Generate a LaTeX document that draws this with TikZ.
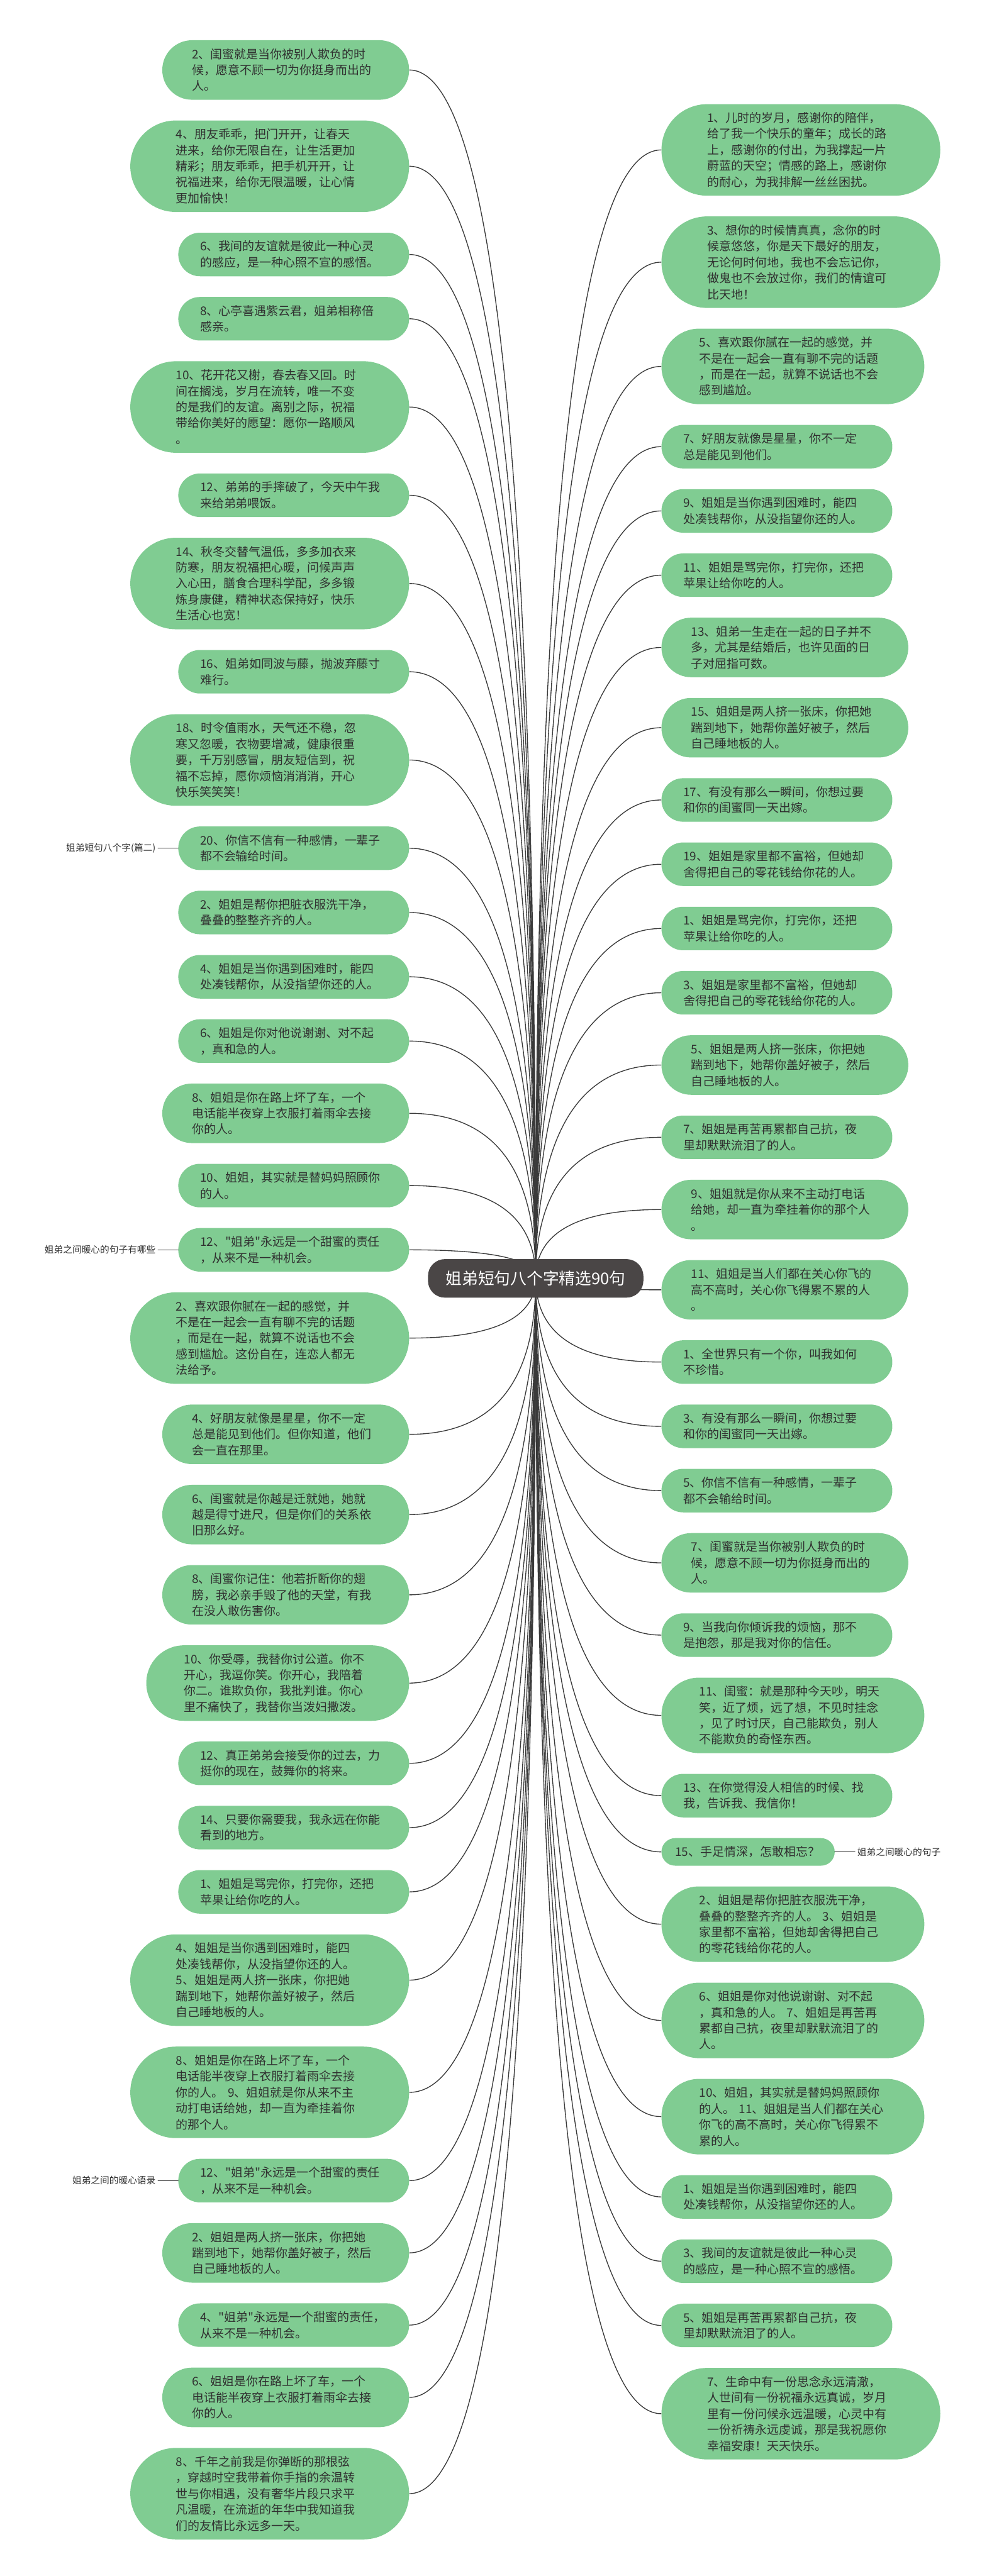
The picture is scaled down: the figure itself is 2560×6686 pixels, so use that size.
\documentclass[tikz,border=0pt]{standalone}
\usepackage{fontspec}
\setmainfont{Noto Sans CJK SC}[Ligatures=TeXOff]
\usepackage{xcolor}
\usepackage{tikz}
\usetikzlibrary{positioning,calc,backgrounds}
\definecolor{leafgreen}{HTML}{80CC92}
\definecolor{rootgray}{HTML}{4A4646}
\definecolor{ink}{HTML}{303030}
\definecolor{linkgray}{HTML}{3A3A3A}
\tikzset{
    every picture/.style={line cap=round,line join=round},
    leafnode/.style={rectangle,fill=leafgreen,text=ink,
      text width=243pt,inner ysep=2pt,align=left,
      font=\fontsize{15.5pt}{20.75pt}\selectfont},
    nlines/.style={minimum height=20.75pt*#1+15pt,
      inner xsep=10.375pt*#1+7.5pt,rounded corners=10.375pt*#1+7.4pt},
    rootnode/.style={rectangle,rounded corners=22pt,fill=rootgray,text=white,
      minimum width=279.5pt,minimum height=50pt,inner sep=0pt,
      font=\fontsize{21pt}{25pt}\selectfont},
    tagnode/.style={text=ink,inner sep=3pt,font=\fontsize{12pt}{14pt}\selectfont},
    linkline/.style={draw=linkgray,line width=1.1pt},
    tagline/.style={draw=ink,line width=1.1pt},
    mmcurve/.style={to path={.. controls ($(\tikztostart)!0.6667!(\tikztostart |- \tikztotarget)$)
      and ($(\tikztotarget)!0.6667!(\tikztostart |- \tikztotarget)$) .. (\tikztotarget)}},
    leftnext/.style={below=26.5pt of #1.south east,anchor=north east},
    rightnext/.style={below=26.5pt of #1.south west,anchor=north west}
}

\begin{document}
\begin{tikzpicture}[x=0.5pt,y=-0.5pt]
  \useasboundingbox (0,0) rectangle (2560,6686);
  \node[rootnode] (root) at (1390,3318) {姐弟短句八个字精选90句};

  \node[leafnode,nlines=3,anchor=north east] (l1) at (1062,104)
    {2、闺蜜就是当你被别人欺负的时\\候，愿意不顾一切为你挺身而出的\\人。};
  \node[leafnode,nlines=5,leftnext=l1] (l2)
    {4、朋友乖乖，把门开开，让春天\\进来，给你无限自在，让生活更加\\精彩；朋友乖乖，把手机开开，让\\祝福进来，给你无限温暖，让心情\\更加愉快！};
  \node[leafnode,nlines=2,leftnext=l2] (l3)
    {6、我间的友谊就是彼此一种心灵\\的感应，是一种心照不宣的感悟。};
  \node[leafnode,nlines=2,leftnext=l3] (l4)
    {8、心亭喜遇紫云君，姐弟相称倍\\感亲。};
  \node[leafnode,nlines=5,leftnext=l4] (l5)
    {10、花开花又榭，春去春又回。时\\间在搁浅，岁月在流转，唯一不变\\的是我们的友谊。离别之际，祝福\\带给你美好的愿望：愿你一路顺风\\。};
  \node[leafnode,nlines=2,leftnext=l5] (l6)
    {12、弟弟的手摔破了，今天中午我\\来给弟弟喂饭。};
  \node[leafnode,nlines=5,leftnext=l6] (l7)
    {14、秋冬交替气温低，多多加衣来\\防寒，朋友祝福把心暖，问候声声\\入心田，膳食合理科学配，多多锻\\炼身康健，精神状态保持好，快乐\\生活心也宽！};
  \node[leafnode,nlines=2,leftnext=l7] (l8)
    {16、姐弟如同波与藤，抛波弃藤寸\\难行。};
  \node[leafnode,nlines=5,leftnext=l8] (l9)
    {18、时令值雨水，天气还不稳，忽\\寒又忽暖，衣物要增减，健康很重\\要，千万别感冒，朋友短信到，祝\\福不忘掉，愿你烦恼消消消，开心\\快乐笑笑笑！};
  \node[leafnode,nlines=2,leftnext=l9] (l10)
    {20、你信不信有一种感情，一辈子\\都不会输给时间。};
  \node[leafnode,nlines=2,leftnext=l10] (l11)
    {2、姐姐是帮你把脏衣服洗干净，\\叠叠的整整齐齐的人。};
  \node[leafnode,nlines=2,leftnext=l11] (l12)
    {4、姐姐是当你遇到困难时，能四\\处凑钱帮你，从没指望你还的人。};
  \node[leafnode,nlines=2,leftnext=l12] (l13)
    {6、姐姐是你对他说谢谢、对不起\\，真和急的人。};
  \node[leafnode,nlines=3,leftnext=l13] (l14)
    {8、姐姐是你在路上坏了车，一个\\电话能半夜穿上衣服打着雨伞去接\\你的人。};
  \node[leafnode,nlines=2,leftnext=l14] (l15)
    {10、姐姐，其实就是替妈妈照顾你\\的人。};
  \node[leafnode,nlines=2,leftnext=l15] (l16)
    {12、"姐弟"永远是一个甜蜜的责任\\，从来不是一种机会。};
  \node[leafnode,nlines=5,leftnext=l16] (l17)
    {2、喜欢跟你腻在一起的感觉，并\\不是在一起会一直有聊不完的话题\\，而是在一起，就算不说话也不会\\感到尴尬。这份自在，连恋人都无\\法给予。};
  \node[leafnode,nlines=3,leftnext=l17] (l18)
    {4、好朋友就像是星星，你不一定\\总是能见到他们。但你知道，他们\\会一直在那里。};
  \node[leafnode,nlines=3,leftnext=l18] (l19)
    {6、闺蜜就是你越是迁就她，她就\\越是得寸进尺，但是你们的关系依\\旧那么好。};
  \node[leafnode,nlines=3,leftnext=l19] (l20)
    {8、闺蜜你记住：他若折断你的翅\\膀，我必亲手毁了他的天堂，有我\\在没人敢伤害你。};
  \node[leafnode,nlines=4,leftnext=l20] (l21)
    {10、你受辱，我替你讨公道。你不\\开心，我逗你笑。你开心，我陪着\\你二。谁欺负你，我批判谁。你心\\里不痛快了，我替你当泼妇撒泼。};
  \node[leafnode,nlines=2,leftnext=l21] (l22)
    {12、真正弟弟会接受你的过去，力\\挺你的现在，鼓舞你的将来。};
  \node[leafnode,nlines=2,leftnext=l22] (l23)
    {14、只要你需要我，我永远在你能\\看到的地方。};
  \node[leafnode,nlines=2,leftnext=l23] (l24)
    {1、姐姐是骂完你，打完你，还把\\苹果让给你吃的人。};
  \node[leafnode,nlines=5,leftnext=l24] (l25)
    {4、姐姐是当你遇到困难时，能四\\处凑钱帮你，从没指望你还的人。\\5、姐姐是两人挤一张床，你把她\\踹到地下，她帮你盖好被子，然后\\自己睡地板的人。};
  \node[leafnode,nlines=5,leftnext=l25] (l26)
    {8、姐姐是你在路上坏了车，一个\\电话能半夜穿上衣服打着雨伞去接\\你的人。~9、姐姐就是你从来不主\\动打电话给她，却一直为牵挂着你\\的那个人。};
  \node[leafnode,nlines=2,leftnext=l26] (l27)
    {12、"姐弟"永远是一个甜蜜的责任\\，从来不是一种机会。};
  \node[leafnode,nlines=3,leftnext=l27] (l28)
    {2、姐姐是两人挤一张床，你把她\\踹到地下，她帮你盖好被子，然后\\自己睡地板的人。};
  \node[leafnode,nlines=2,leftnext=l28] (l29)
    {4、"姐弟"永远是一个甜蜜的责任，\\从来不是一种机会。};
  \node[leafnode,nlines=3,leftnext=l29] (l30)
    {6、姐姐是你在路上坏了车，一个\\电话能半夜穿上衣服打着雨伞去接\\你的人。};
  \node[leafnode,nlines=5,leftnext=l30] (l31)
    {8、千年之前我是你弹断的那根弦\\，穿越时空我带着你手指的余温转\\世与你相遇，没有奢华片段只求平\\凡温暖，在流逝的年华中我知道我\\们的友情比永远多一天。};

  \node[leafnode,nlines=5,anchor=north west] (r1) at (1716,270)
    {1、儿时的岁月，感谢你的陪伴，\\给了我一个快乐的童年；成长的路\\上，感谢你的付出，为我撑起一片\\蔚蓝的天空；情感的路上，感谢你\\的耐心，为我排解一丝丝困扰。};
  \node[leafnode,nlines=5,rightnext=r1] (r2)
    {3、想你的时候情真真，念你的时\\候意悠悠，你是天下最好的朋友，\\无论何时何地，我也不会忘记你，\\做鬼也不会放过你，我们的情谊可\\比天地！};
  \node[leafnode,nlines=4,rightnext=r2] (r3)
    {5、喜欢跟你腻在一起的感觉，并\\不是在一起会一直有聊不完的话题\\，而是在一起，就算不说话也不会\\感到尴尬。};
  \node[leafnode,nlines=2,rightnext=r3] (r4)
    {7、好朋友就像是星星，你不一定\\总是能见到他们。};
  \node[leafnode,nlines=2,rightnext=r4] (r5)
    {9、姐姐是当你遇到困难时，能四\\处凑钱帮你，从没指望你还的人。};
  \node[leafnode,nlines=2,rightnext=r5] (r6)
    {11、姐姐是骂完你，打完你，还把\\苹果让给你吃的人。};
  \node[leafnode,nlines=3,rightnext=r6] (r7)
    {13、姐弟一生走在一起的日子并不\\多，尤其是结婚后，也许见面的日\\子对屈指可数。};
  \node[leafnode,nlines=3,rightnext=r7] (r8)
    {15、姐姐是两人挤一张床，你把她\\踹到地下，她帮你盖好被子，然后\\自己睡地板的人。};
  \node[leafnode,nlines=2,rightnext=r8] (r9)
    {17、有没有那么一瞬间，你想过要\\和你的闺蜜同一天出嫁。};
  \node[leafnode,nlines=2,rightnext=r9] (r10)
    {19、姐姐是家里都不富裕，但她却\\舍得把自己的零花钱给你花的人。};
  \node[leafnode,nlines=2,rightnext=r10] (r11)
    {1、姐姐是骂完你，打完你，还把\\苹果让给你吃的人。};
  \node[leafnode,nlines=2,rightnext=r11] (r12)
    {3、姐姐是家里都不富裕，但她却\\舍得把自己的零花钱给你花的人。};
  \node[leafnode,nlines=3,rightnext=r12] (r13)
    {5、姐姐是两人挤一张床，你把她\\踹到地下，她帮你盖好被子，然后\\自己睡地板的人。};
  \node[leafnode,nlines=2,rightnext=r13] (r14)
    {7、姐姐是再苦再累都自己抗，夜\\里却默默流泪了的人。};
  \node[leafnode,nlines=3,rightnext=r14] (r15)
    {9、姐姐就是你从来不主动打电话\\给她，却一直为牵挂着你的那个人\\。};
  \node[leafnode,nlines=3,rightnext=r15] (r16)
    {11、姐姐是当人们都在关心你飞的\\高不高时，关心你飞得累不累的人\\。};
  \node[leafnode,nlines=2,rightnext=r16] (r17)
    {1、全世界只有一个你，叫我如何\\不珍惜。};
  \node[leafnode,nlines=2,rightnext=r17] (r18)
    {3、有没有那么一瞬间，你想过要\\和你的闺蜜同一天出嫁。};
  \node[leafnode,nlines=2,rightnext=r18] (r19)
    {5、你信不信有一种感情，一辈子\\都不会输给时间。};
  \node[leafnode,nlines=3,rightnext=r19] (r20)
    {7、闺蜜就是当你被别人欺负的时\\候，愿意不顾一切为你挺身而出的\\人。};
  \node[leafnode,nlines=2,rightnext=r20] (r21)
    {9、当我向你倾诉我的烦恼，那不\\是抱怨，那是我对你的信任。};
  \node[leafnode,nlines=4,rightnext=r21] (r22)
    {11、闺蜜：就是那种今天吵，明天\\笑，近了烦，远了想，不见时挂念\\，见了时讨厌，自己能欺负，别人\\不能欺负的奇怪东西。};
  \node[leafnode,nlines=2,rightnext=r22] (r23)
    {13、在你觉得没人相信的时候、找\\我，告诉我、我信你！};
  \node[leafnode,nlines=1,text width=189pt,rightnext=r23] (r24)
    {15、手足情深，怎敢相忘？};
  \node[leafnode,nlines=4,rightnext=r24] (r25)
    {2、姐姐是帮你把脏衣服洗干净，\\叠叠的整整齐齐的人。~3、姐姐是\\家里都不富裕，但她却舍得把自己\\的零花钱给你花的人。};
  \node[leafnode,nlines=4,rightnext=r25] (r26)
    {6、姐姐是你对他说谢谢、对不起\\，真和急的人。~7、姐姐是再苦再\\累都自己抗，夜里却默默流泪了的\\人。};
  \node[leafnode,nlines=4,rightnext=r26] (r27)
    {10、姐姐，其实就是替妈妈照顾你\\的人。~11、姐姐是当人们都在关心\\你飞的高不高时，关心你飞得累不\\累的人。};
  \node[leafnode,nlines=2,rightnext=r27] (r28)
    {1、姐姐是当你遇到困难时，能四\\处凑钱帮你，从没指望你还的人。};
  \node[leafnode,nlines=2,rightnext=r28] (r29)
    {3、我间的友谊就是彼此一种心灵\\的感应，是一种心照不宣的感悟。};
  \node[leafnode,nlines=2,rightnext=r29] (r30)
    {5、姐姐是再苦再累都自己抗，夜\\里却默默流泪了的人。};
  \node[leafnode,nlines=5,rightnext=r30] (r31)
    {7、生命中有一份思念永远清澈，\\人世间有一份祝福永远真诚，岁月\\里有一份问候永远温暖，心灵中有\\一份祈祷永远虔诚，那是我祝愿你\\幸福安康！天天快乐。};

  \node[tagnode,left=26pt of l10] (tag1) {姐弟短句八个字(篇二)};
  \node[tagnode,left=26pt of l16] (tag2) {姐弟之间暖心的句子有哪些};
  \node[tagnode,left=26pt of l27] (tag3) {姐弟之间的暖心语录};
  \node[tagnode,right=26pt of r24] (tag4) {姐弟之间暖心的句子};
  \draw[tagline] (tag1) -- (l10);
  \draw[tagline] (tag2) -- (l16);
  \draw[tagline] (tag3) -- (l27);
  \draw[tagline] (r24) -- (tag4);

  \begin{scope}[on background layer]
    \foreach \i in {1,...,31} {
      \draw[linkline] (root.center) to[mmcurve] (l\i.east);
      \draw[linkline] (root.center) to[mmcurve] (r\i.west);
    }
  \end{scope}
\end{tikzpicture}
\end{document}
